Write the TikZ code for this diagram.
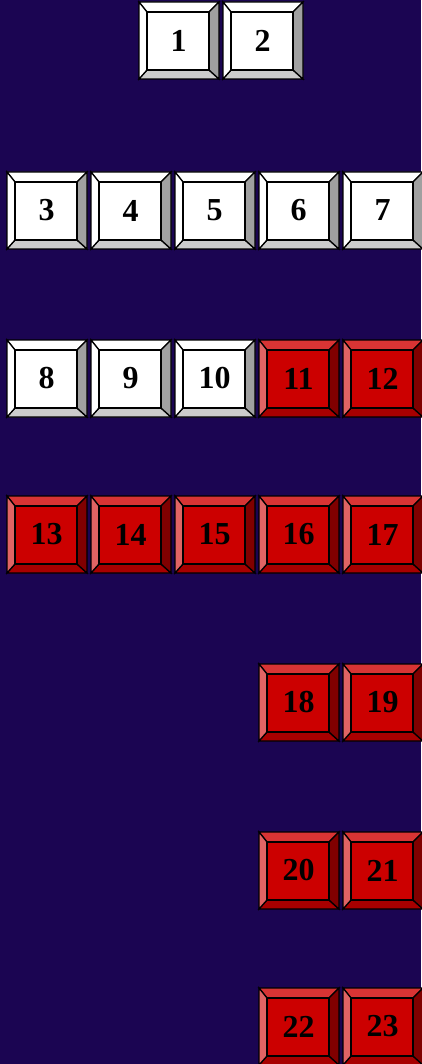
\documentclass[tikz,border=0pt]{standalone}
\usepackage{fontspec}
\newfontfamily\keyfont{Liberation Serif}
\definecolor{bg}{HTML}{1B0552}
\definecolor{wtop}{HTML}{FFFFFF}
\definecolor{wleft}{HTML}{FFFFFF}
\definecolor{wright}{HTML}{A0A0A0}
\definecolor{wbot}{HTML}{CCCCCC}
\definecolor{wface}{HTML}{FFFFFF}
\definecolor{rtop}{HTML}{D83434}
\definecolor{rleft}{HTML}{E06464}
\definecolor{rright}{HTML}{800000}
\definecolor{rbot}{HTML}{A80000}
\definecolor{rface}{HTML}{CC0000}
\tikzset{bev/.style={draw=black,line width=1.3pt,line join=miter},
  keylabel/.style={font=\keyfont\bfseries\fontsize{32}{32}\selectfont,text=black,inner sep=0pt}}
% #1 name, #2 x, #3 y, #4 label, #5 colour prefix (w or r)
\newcommand\keybox[5]{%
  \filldraw[bev,fill=#5top] (#2,#3) -- (#2+80,#3) -- (#2+70,#3+10) -- (#2+8,#3+10) -- cycle;
  \filldraw[bev,fill=#5bot] (#2,#3+77) -- (#2+80,#3+77) -- (#2+70,#3+68) -- (#2+8,#3+68) -- cycle;
  \filldraw[bev,fill=#5left] (#2,#3) -- (#2+8,#3+10) -- (#2+8,#3+68) -- (#2,#3+77) -- cycle;
  \filldraw[bev,fill=#5right] (#2+80,#3) -- (#2+70,#3+10) -- (#2+70,#3+68) -- (#2+80,#3+77) -- cycle;
  \filldraw[bev,line width=1.6pt,fill=#5face] (#2+8,#3+10) rectangle (#2+70,#3+68);
  \node[keylabel] (#1) at (#2+39.5,#3+38.5) {#4};
}
\begin{document}
\begin{tikzpicture}[x=1pt,y=-1pt]
\fill[bg] (0,0) rectangle (421,1064);
\useasboundingbox (0,0) rectangle (421,1064);
\keybox{k1}{139}{2}{1}{w}
\keybox{k2}{223}{2}{2}{w}
\keybox{k3}{7}{172}{3}{w}
\keybox{k4}{91}{172}{4}{w}
\keybox{k5}{175}{172}{5}{w}
\keybox{k6}{259}{172}{6}{w}
\keybox{k7}{343}{172}{7}{w}
\keybox{k8}{7}{340}{8}{w}
\keybox{k9}{91}{340}{9}{w}
\keybox{k10}{175}{340}{10}{w}
\keybox{k11}{259}{340}{11}{r}
\keybox{k12}{343}{340}{12}{r}
\keybox{k13}{7}{496}{13}{r}
\keybox{k14}{91}{496}{14}{r}
\keybox{k15}{175}{496}{15}{r}
\keybox{k16}{259}{496}{16}{r}
\keybox{k17}{343}{496}{17}{r}
\keybox{k18}{259}{664}{18}{r}
\keybox{k19}{343}{664}{19}{r}
\keybox{k20}{259}{832}{20}{r}
\keybox{k21}{343}{832}{21}{r}
\keybox{k22}{259}{988}{22}{r}
\keybox{k23}{343}{988}{23}{r}
\end{tikzpicture}
\end{document}
